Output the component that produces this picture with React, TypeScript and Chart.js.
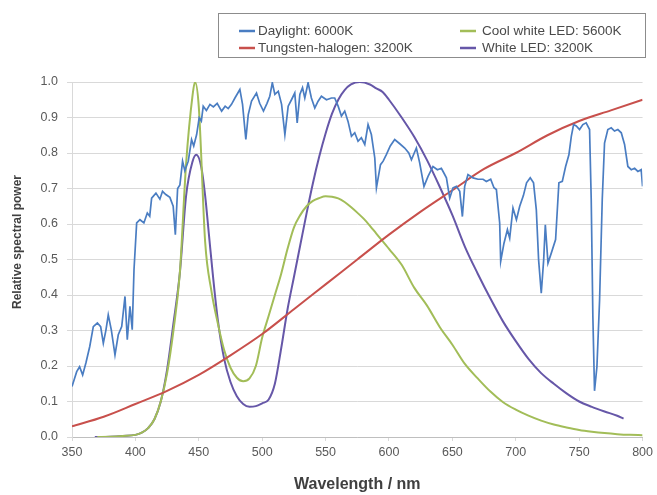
import React, { useEffect, useRef } from "react";
import { Chart, registerables } from "chart.js";

Chart.register(...registerables);

// ---- Data ----
const seriesLabels = [
  "Daylight: 6000K",
  "Tungsten-halogen: 3200K",
  "Cool white LED: 5600K",
  "White LED: 3200K",
];
const seriesColors = ["#4A7DC2", "#C8504C", "#A2BD58", "#6657A8"];

const xTicks = [350, 400, 450, 500, 550, 600, 650, 700, 750, 800];
const yTicks = [0, 0.1, 0.2, 0.3, 0.4, 0.5, 0.6, 0.7, 0.8, 0.9, 1.0];

const daylightNm = [
  350, 353.7, 356, 358.4, 361, 364, 366.8, 370, 372.6, 374.7, 376.8, 378.6, 381, 383.9, 386.5, 389.2,
  391.8, 393.6, 395.7, 397.5, 398.9, 401, 403.6, 406.7, 409.4, 411.3, 412.8, 416.2, 419.3, 421.4, 424,
  427.2, 429.8, 431.5, 433.3, 435.1, 437.2, 439, 441.7, 444.3, 446, 448.3, 450.3, 452, 453.5, 456,
  458.8, 461.5, 464.5, 468, 470.8, 473.2, 475.8, 478.5, 482.4, 484.5, 487.1, 489, 491.6, 495.5, 498,
  501, 503.8, 506, 508, 510, 512.7, 515.3, 517.9, 520.5, 523.1, 525.7, 527.6, 529.7, 531.8, 533.6,
  536.2, 538.8, 541.5, 544.1, 546.7, 550.7, 554.6, 557.2, 559.9, 562.5, 565.1, 567.7, 570.4, 573,
  575.6, 578.2, 580.9, 583.5, 586.1, 588.8, 590.1, 593.3, 595.4, 598, 601, 604.5, 608.5, 612.4, 615.6,
  617.7, 621.6, 624.2, 627.6, 630.8, 634.7, 638.2, 641.3, 643.4, 645.3, 647.9, 650.5, 653.2, 655.8,
  657.9, 659.7, 662.3, 666.3, 670.2, 674.2, 676.8, 680.2, 682.8, 684.7, 687.3, 688.1, 690.7, 693.4,
  695.2, 697.8, 700.5, 703.1, 706, 708.5, 711.4, 714, 716.2, 718, 720.1, 722, 723.3, 725.4, 728, 731.4,
  734, 736.7, 739.3, 741.9, 743.8, 745.6, 747.7, 750.3, 752.9, 755.5, 758.2, 759.5, 760.8, 762.1, 764,
  766.1, 768.2, 770, 772.6, 775.3, 777.9, 780.5, 783.2, 785.8, 788.4, 791.1, 793.7, 796.3, 798.9, 800,
];
const daylightPower = [
  0.142, 0.184, 0.198, 0.175, 0.209, 0.255, 0.311, 0.321, 0.311, 0.264, 0.302, 0.344, 0.302, 0.231, 0.288, 0.311,
  0.396, 0.274, 0.368, 0.302, 0.471, 0.603, 0.612, 0.603, 0.631, 0.622, 0.673, 0.687, 0.67, 0.692, 0.683,
  0.675, 0.65, 0.57, 0.7, 0.71, 0.777, 0.75, 0.777, 0.838, 0.82, 0.852, 0.899, 0.89, 0.932, 0.92,
  0.937, 0.93, 0.94, 0.918, 0.932, 0.925, 0.937, 0.955, 0.979, 0.937, 0.838, 0.908, 0.946, 0.969, 0.94,
  0.918, 0.94, 0.96, 0.998, 0.965, 0.974, 0.937, 0.852, 0.932, 0.95, 0.969, 0.885, 0.965, 0.984, 0.955,
  0.998, 0.955, 0.927, 0.946, 0.96, 0.95, 0.955, 0.955, 0.932, 0.904, 0.918, 0.889, 0.847, 0.857,
  0.833, 0.843, 0.824, 0.88, 0.852, 0.786, 0.702, 0.767, 0.777, 0.796, 0.82, 0.838, 0.826, 0.814, 0.8,
  0.781, 0.814, 0.772, 0.706, 0.734, 0.762, 0.753, 0.757, 0.743, 0.73, 0.673, 0.702, 0.706, 0.692,
  0.621, 0.706, 0.739, 0.73, 0.726, 0.726, 0.72, 0.726, 0.702, 0.697, 0.603, 0.495, 0.546, 0.584,
  0.56, 0.645, 0.612, 0.65, 0.68, 0.716, 0.73, 0.716, 0.64, 0.499, 0.405, 0.499, 0.598, 0.49, 0.518, 0.556,
  0.716, 0.72, 0.762, 0.795, 0.847, 0.88, 0.876, 0.866, 0.88, 0.885, 0.866, 0.669, 0.339, 0.13, 0.198,
  0.386, 0.669, 0.828, 0.866, 0.871, 0.862, 0.866, 0.857, 0.824, 0.762, 0.753, 0.757, 0.748, 0.753, 0.706,
];

const tungstenNm = [350, 375, 400, 425, 450, 475, 500, 525, 550, 575, 600, 625, 650, 675, 700, 725, 750, 775, 800];
const tungstenPower = [0.03, 0.057, 0.093, 0.13, 0.175, 0.23, 0.29, 0.36, 0.43, 0.5, 0.57, 0.635, 0.695, 0.755, 0.8, 0.85, 0.89, 0.92, 0.95];

const coolLedNm = [
  370, 380, 390, 400, 405, 410, 415, 420, 425, 430, 435, 440, 445, 447, 450, 455, 460, 465, 470, 475, 480,
  485, 490, 495, 500, 505, 510, 515, 520, 525, 530, 535, 540, 545, 550, 555, 560, 565, 570, 575, 580, 585,
  590, 600, 610, 620, 630, 640, 650, 660, 670, 680, 690, 700, 710, 720, 730, 740, 750, 760, 770, 780, 790, 800,
];
const coolLedPower = [
  0, 0.001, 0.003, 0.006, 0.012, 0.025, 0.05, 0.1, 0.18, 0.3, 0.46, 0.77, 0.96, 1.0, 0.93, 0.55, 0.41, 0.32,
  0.245, 0.195, 0.167, 0.157, 0.165, 0.2, 0.28, 0.34, 0.4, 0.46, 0.53, 0.59, 0.625, 0.65, 0.665, 0.673, 0.678,
  0.677, 0.672, 0.662, 0.648, 0.632, 0.615, 0.595, 0.573, 0.53, 0.485, 0.42, 0.37, 0.31, 0.26, 0.205, 0.165,
  0.128, 0.098, 0.077, 0.06, 0.046, 0.035, 0.027, 0.02, 0.015, 0.011, 0.008, 0.006, 0.005,
];

const whiteLedNm = [
  368, 380, 390, 400, 405, 410, 415, 420, 425, 430, 435, 440, 445, 448, 452, 455, 458, 461, 465, 470, 475, 480,
  485, 490, 495, 500, 505, 510, 515, 520, 525, 530, 535, 540, 545, 550, 555, 560, 565, 570, 577, 585, 590, 595,
  600, 610, 620, 630, 640, 650, 660, 670, 680, 690, 700, 710, 720, 730, 740, 750, 760, 770, 780, 785,
];
const whiteLedPower = [
  0, 0.001, 0.003, 0.006, 0.012, 0.025, 0.05, 0.1, 0.19, 0.32, 0.46, 0.68, 0.775, 0.795, 0.76, 0.68, 0.57,
  0.46, 0.33, 0.22, 0.155, 0.115, 0.093, 0.085, 0.087, 0.095, 0.105, 0.15, 0.25, 0.36, 0.45, 0.54, 0.63,
  0.715, 0.79, 0.855, 0.91, 0.95, 0.977, 0.993, 1.0, 0.993, 0.982, 0.972, 0.95, 0.9, 0.845, 0.78, 0.705,
  0.625, 0.535, 0.46, 0.39, 0.325, 0.27, 0.22, 0.18, 0.15, 0.123, 0.1, 0.085, 0.072, 0.06, 0.052,
];

const xTitle = "Wavelength / nm";
const yTitle = "Relative spectral power";

// ---- helpers ----
function pts(nm: number[], v: number[]) {
  return nm.map((x, i) => ({ x, y: v[i] }));
}

const FONT = "'Liberation Sans', Arial, sans-serif";

const legendBoxPlugin = {
  id: "legendBox",
  afterDraw(chart: any) {
    const ctx = chart.ctx as CanvasRenderingContext2D;
    ctx.save();
    const bx = 218.5, by = 13.5, bw = 427, bh = 44;
    ctx.fillStyle = "#ffffff";
    ctx.fillRect(bx, by, bw, bh);
    ctx.strokeStyle = "#8c8c8c";
    ctx.lineWidth = 1;
    ctx.strokeRect(bx, by, bw, bh);
    const slots = [
      { i: 0, x: 239, tx: 258, y: 31 },
      { i: 1, x: 239, tx: 258, y: 48 },
      { i: 2, x: 460, tx: 482, y: 31 },
      { i: 3, x: 460, tx: 482, y: 48 },
    ];
    ctx.font = `13.5px ${FONT}`;
    ctx.textBaseline = "middle";
    ctx.textAlign = "left";
    for (const s of slots) {
      ctx.strokeStyle = seriesColors[s.i];
      ctx.lineWidth = 2.5;
      ctx.beginPath();
      ctx.moveTo(s.x, s.y);
      ctx.lineTo(s.x + 16, s.y);
      ctx.stroke();
      ctx.fillStyle = "#4a4a4a";
      ctx.fillText(seriesLabels[s.i], s.tx, s.y);
    }
    // y-axis title (Excel-style, centred slightly above the plot centre)
    ctx.translate(18, 242);
    ctx.rotate(-Math.PI / 2);
    ctx.font = `bold 12px ${FONT}`;
    ctx.textAlign = "center";
    ctx.fillStyle = "#404040";
    ctx.fillText(yTitle, 0, 0);
    ctx.restore();
  },
};

export default function App() {
  const ref = useRef<HTMLCanvasElement | null>(null);

  useEffect(() => {
    document.body.style.margin = "0";
    if (!ref.current) return;
    const smooth = { tension: 0.4, cubicInterpolationMode: "monotone" as const };
    const chart = new Chart(ref.current, {
      type: "line",
      data: {
        datasets: [
          {
            label: seriesLabels[0],
            data: pts(daylightNm, daylightPower),
            borderColor: seriesColors[0],
            borderWidth: 1.7,
            pointRadius: 0,
            tension: 0,
          },
          {
            label: seriesLabels[1],
            data: pts(tungstenNm, tungstenPower),
            borderColor: seriesColors[1],
            borderWidth: 2,
            pointRadius: 0,
            ...smooth,
          },
          {
            label: seriesLabels[2],
            data: pts(coolLedNm, coolLedPower),
            borderColor: seriesColors[2],
            borderWidth: 2,
            pointRadius: 0,
            ...smooth,
          },
          {
            label: seriesLabels[3],
            data: pts(whiteLedNm, whiteLedPower),
            borderColor: seriesColors[3],
            borderWidth: 2,
            pointRadius: 0,
            ...smooth,
          },
        ],
      },
      options: {
        animation: false,
        responsive: false,
        events: [],
        layout: { padding: { top: 82, right: 12, left: 0, bottom: 0 } },
        plugins: { legend: { display: false }, tooltip: { enabled: false } },
        scales: {
          x: {
            type: "linear",
            min: 350,
            max: 800,
            afterFit: (s: any) => { s.height = 58; },
            afterBuildTicks: (s: any) => { s.ticks = xTicks.map((v) => ({ value: v })); },
            grid: { drawOnChartArea: false, drawTicks: true, tickLength: 4, color: "#d9d9d9" },
            border: { display: true, color: "#bfbfbf" },
            ticks: {
              color: "#595959",
              font: { family: FONT, size: 12.5 },
              padding: 4,
              maxRotation: 0,
              callback: (v: any) => String(v),
            },
            title: {
              display: true,
              text: xTitle,
              color: "#404040",
              font: { family: FONT, size: 16, weight: "bold" },
              padding: { top: 0, bottom: 1 },
            },
          },
          y: {
            type: "linear",
            min: 0,
            max: 1,
            afterFit: (s: any) => { s.width = 72; },
            afterBuildTicks: (s: any) => { s.ticks = yTicks.map((v) => ({ value: v })); },
            grid: { color: "#d9d9d9", drawTicks: true, tickLength: 5 },
            border: { display: true, color: "#d9d9d9" },
            ticks: {
              color: "#595959",
              font: { family: FONT, size: 12.5 },
              padding: 9,
              callback: (v: any) => Number(v).toFixed(1),
            },
            title: { display: false },
          },
        },
      },
      plugins: [legendBoxPlugin],
    });
    return () => chart.destroy();
  }, []);

  return (
    <div style={{ width: 657, height: 495 }}>
      <canvas ref={ref} width={657} height={495} style={{ display: "block" }} />
    </div>
  );
}
